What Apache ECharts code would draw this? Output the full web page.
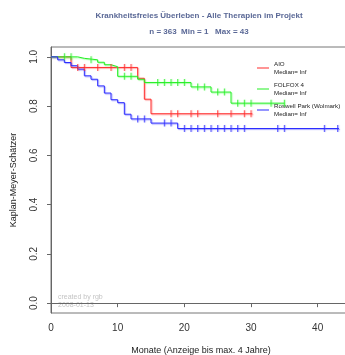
<!DOCTYPE html>
<html>
<head>
<meta charset="utf-8">
<script src="https://cdn.jsdelivr.net/npm/echarts@6/dist/echarts.min.js"></script>
<style>
  html, body { margin: 0; padding: 0; background: #fff; }
  #chart { width: 345px; height: 355px; }
</style>
</head>
<body>
<div id="chart"></div>
<script>
// tick labels
const monthTicks = [0, 10, 20, 30, 40];
const survTicks = [0, 0.2, 0.4, 0.6, 0.8, 1.0];

// AIO
const aioTime = [0, 3, 13, 14, 15, 30.2];
const aioSurv = [1, 0.957, 0.913, 0.828, 0.769, 0.769];
const aioCensor = [4, 5, 7, 9, 11, 12, 18, 19, 21, 22, 25, 27, 29, 30];

// FOLFOX 4
const folTime = [0, 4, 5, 7, 8, 9, 10, 13, 14, 21, 24, 27, 35];
const folSurv = [1, 0.994, 0.988, 0.978, 0.968, 0.96, 0.921, 0.909, 0.896, 0.878, 0.857, 0.812, 0.812];
const folCensor = [2, 3, 6, 11, 12, 16, 17, 18, 19, 20, 22, 23, 25, 26, 28, 29, 30, 33, 35];

// Roswell Park (Wolmark)
const rosTime = [0, 1, 2, 3, 4, 5, 6, 7, 8, 9, 10, 11, 12, 15, 19, 43.2];
const rosSurv = [1, 0.988, 0.977, 0.964, 0.95, 0.923, 0.909, 0.882, 0.853, 0.826, 0.814, 0.767, 0.748, 0.731, 0.709, 0.709];
const rosCensor = [13, 14, 17, 18, 20, 21, 22, 23, 24, 25, 26, 27, 28, 29, 34, 35, 41, 43];

const groups = [
  { name: 'AIO', time: aioTime, surv: aioSurv, censor: aioCensor, color: '#ff2a2a', shade: 'rgba(255,90,90,0.55)' },
  { name: 'FOLFOX 4', time: folTime, surv: folSurv, censor: folCensor, color: '#22ee22', shade: 'rgba(90,255,90,0.55)' },
  { name: 'Roswell Park (Wolmark)', time: rosTime, surv: rosSurv, censor: rosCensor, color: '#2a2aff', shade: 'rgba(90,90,255,0.55)' }
];

function survAt(times, surv, t) {
  var v = surv[0];
  for (var i = 0; i < times.length; i++) {
    if (times[i] <= t) v = surv[i];
  }
  return v;
}

var series = [];
groups.forEach(function (g) {
  series.push({
    name: g.name,
    type: 'line',
    step: 'end',
    showSymbol: false,
    silent: true,
    data: g.time.map(function (t, i) { return [t, g.surv[i]]; }),
    lineStyle: { width: 1, color: g.color, shadowColor: g.shade, shadowBlur: 1, shadowOffsetX: 1, shadowOffsetY: 1 },
    itemStyle: { color: g.color },
    z: 3
  });
  series.push({
    name: g.name + ' censored',
    type: 'scatter',
    symbol: 'rect',
    symbolSize: [1, 7],
    silent: true,
    data: g.censor.map(function (t) { return [t, survAt(g.time, g.surv, t)]; }),
    itemStyle: { color: g.color, shadowColor: g.shade, shadowBlur: 1, shadowOffsetX: 1 },
    z: 4
  });
});

var chart = echarts.init(document.getElementById('chart'));
chart.setOption({
  animation: false,
  backgroundColor: '#fff',
  textStyle: { fontFamily: 'Liberation Sans' },
  grid: {
    left: 51, top: 47, right: -6, bottom: 42,
    show: true, borderColor: '#777', borderWidth: 1,
    outerBoundsMode: 'none'
  },
  legend: {
    orient: 'vertical',
    left: 257,
    top: 60,
    padding: 0,
    itemWidth: 12,
    itemHeight: 1,
    itemGap: 5,
    icon: 'rect',
    data: groups.map(function (g) { return g.name; }),
    formatter: function (n) { return n + '\nMedian= Inf'; },
    textStyle: { fontSize: 6.2, lineHeight: 8, color: '#222', fontFamily: 'Liberation Sans' }
  },
  xAxis: {
    type: 'value',
    min: 0,
    max: 45,
    name: 'Monate (Anzeige bis max. 4 Jahre)',
    nameLocation: 'middle',
    nameGap: 33,
    nameTextStyle: { fontSize: 9, color: '#222' },
    axisLine: { lineStyle: { color: '#666' } },
    axisTick: { length: 4, lineStyle: { color: '#666' }, customValues: monthTicks },
    axisLabel: { customValues: monthTicks, fontSize: 10, color: '#333', margin: 10 },
    splitLine: { show: false }
  },
  yAxis: {
    type: 'value',
    min: -0.04,
    max: 1.04,
    name: 'Kaplan-Meyer-Schätzer',
    nameLocation: 'middle',
    nameGap: 33,
    nameTextStyle: { fontSize: 9, color: '#222' },
    axisLine: { show: true, lineStyle: { color: '#666' } },
    axisTick: { show: true, length: 4, lineStyle: { color: '#666' }, customValues: survTicks },
    axisLabel: {
      customValues: survTicks, rotate: 90, fontSize: 10, color: '#333', margin: 12,
      formatter: function (v) { return v.toFixed(1); }
    },
    splitLine: { show: false }
  },
  graphic: [
    { type: 'text', x: 199, y: 16, style: { text: 'Krankheitsfreies Überleben - Alle Therapien im Projekt', align: 'center', verticalAlign: 'middle', font: 'bold 8px "Liberation Sans"', fill: '#5a6896' } },
    { type: 'text', x: 199, y: 32, style: { text: 'n = 363  Min = 1   Max = 43', align: 'center', verticalAlign: 'middle', font: 'bold 8px "Liberation Sans"', fill: '#5a6896' } },
    { type: 'text', x: 58, y: 293, style: { text: 'created by rgb\n2008-01-13', font: '7px "Liberation Sans"', lineHeight: 8, fill: '#c4c4c4' } }
  ],
  series: series
});
</script>
</body>
</html>
